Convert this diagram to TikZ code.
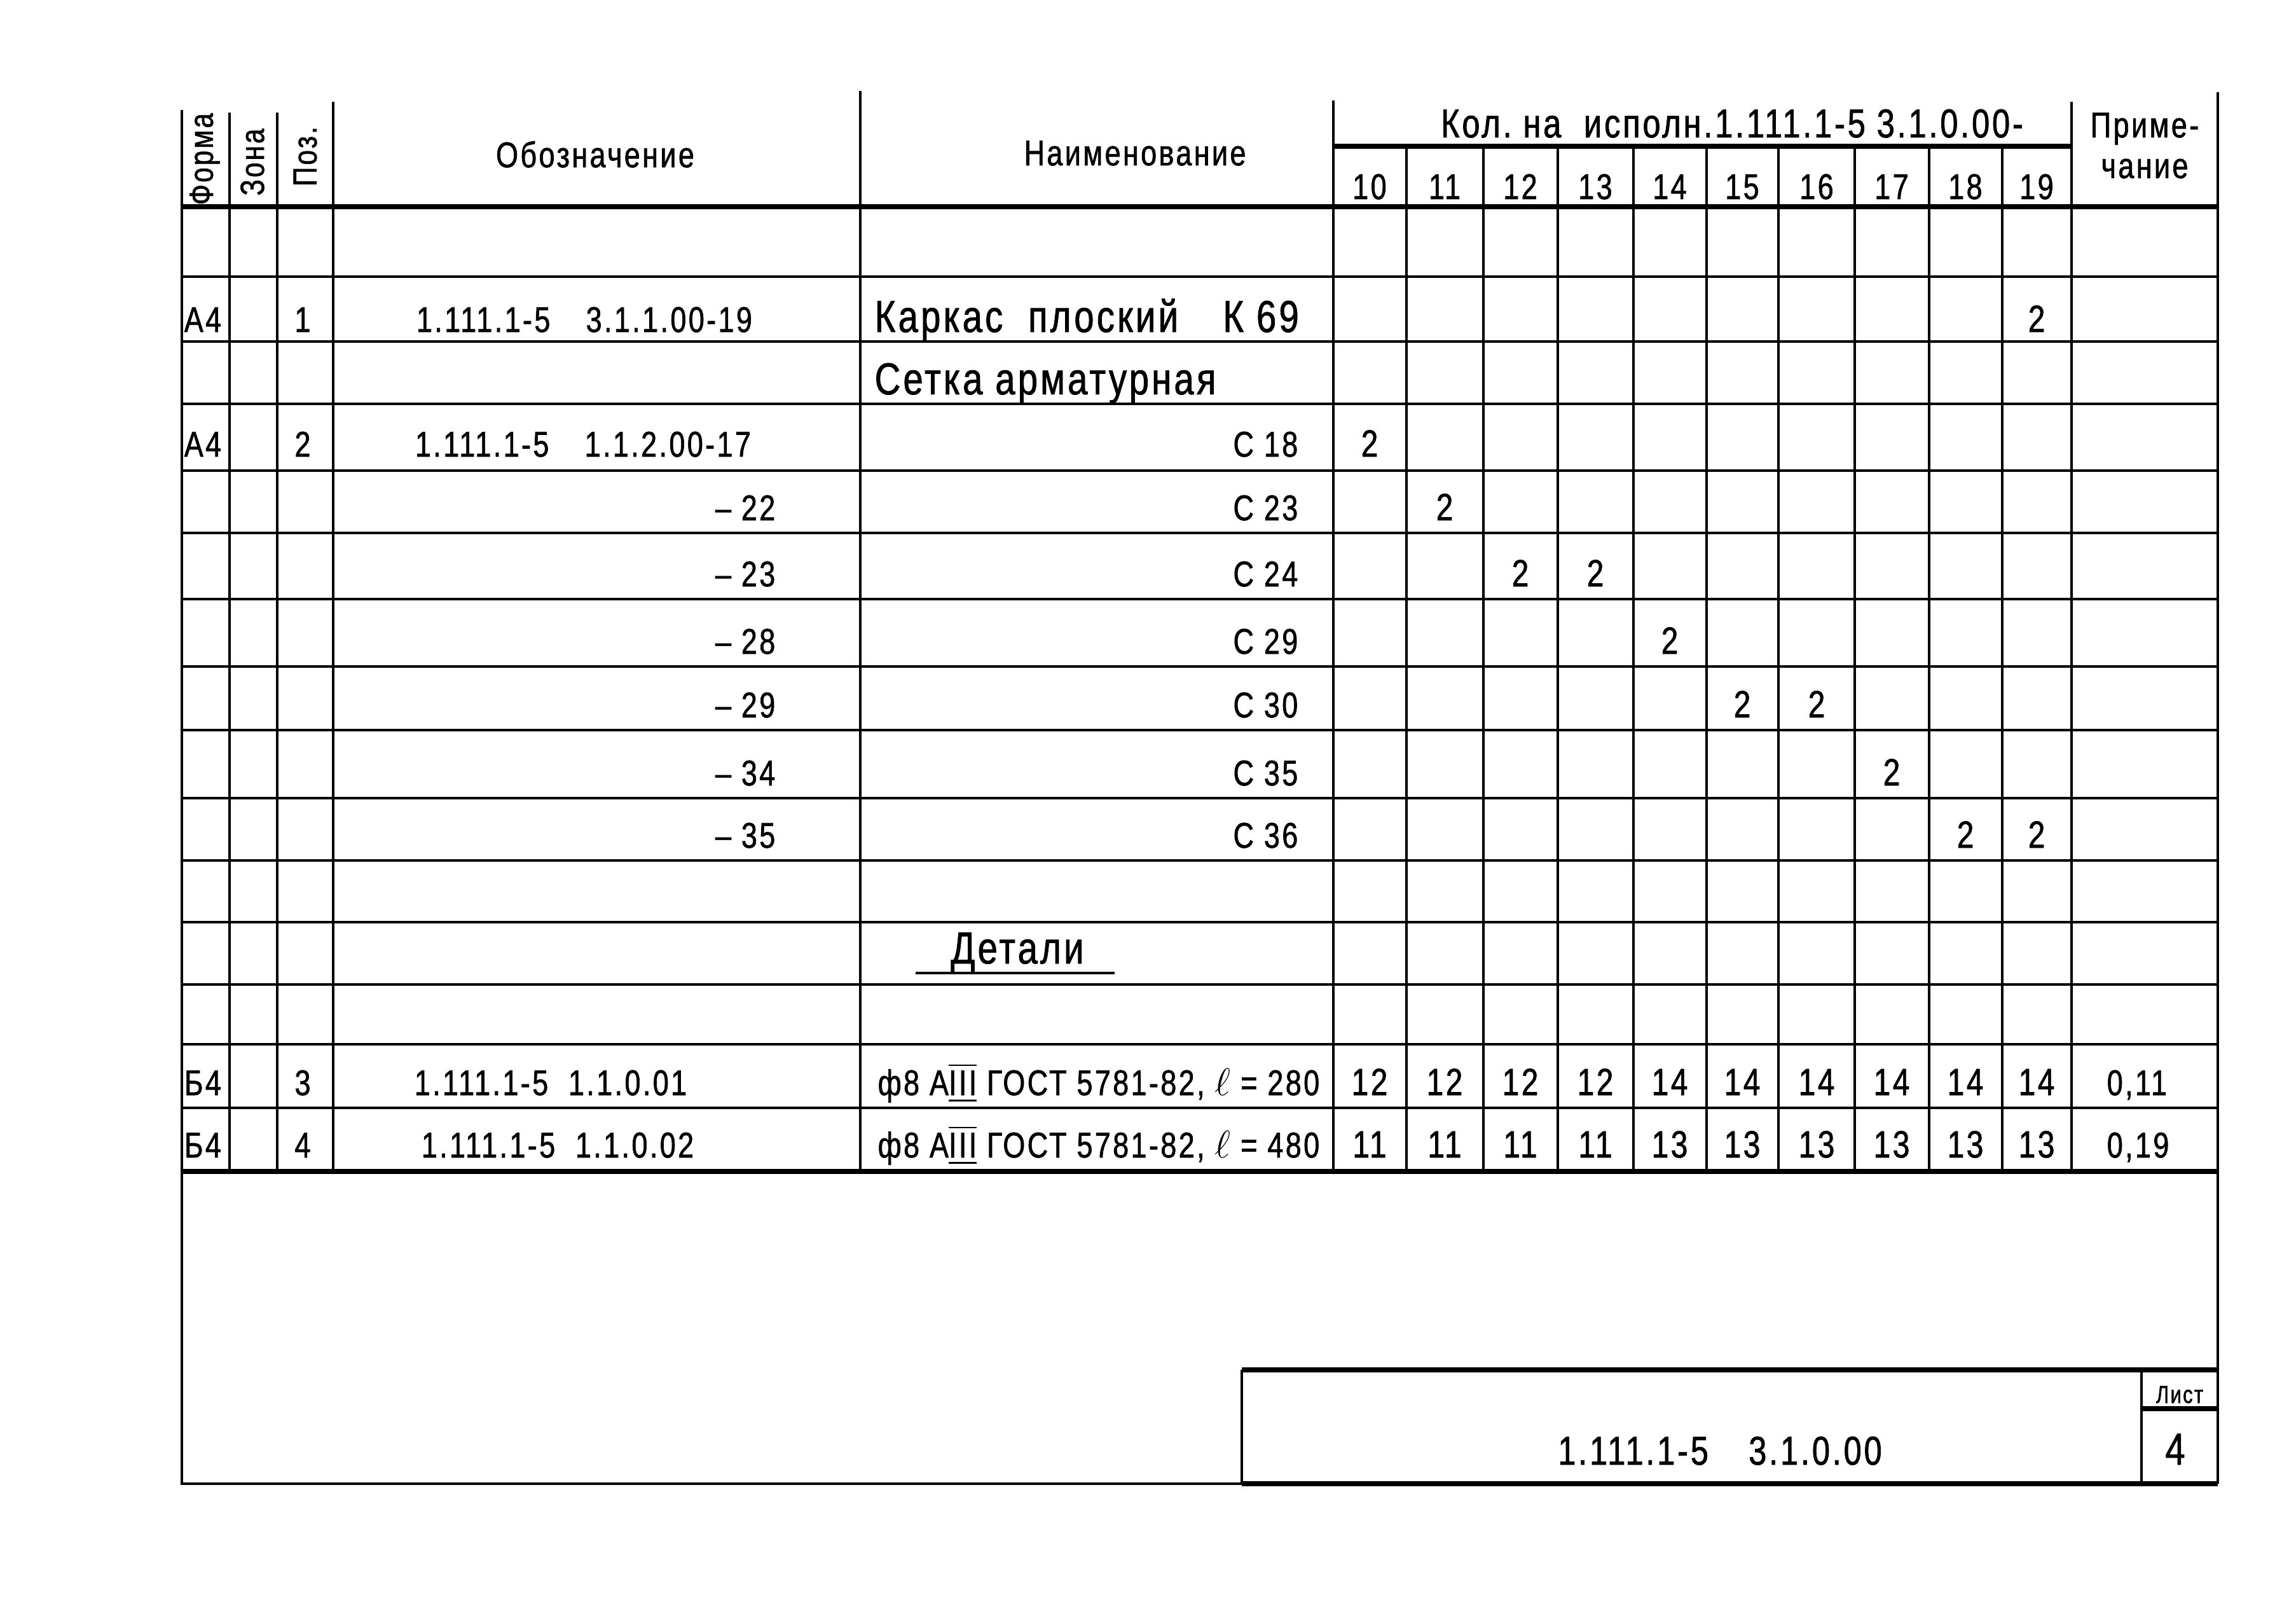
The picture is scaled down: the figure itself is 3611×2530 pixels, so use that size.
\documentclass[tikz,border=0pt]{standalone}
\usepackage{fontspec}
\setmainfont{Liberation Sans}[FakeStretch=0.8,LetterSpace=6,FakeBold=1.2]
\usepackage{amsmath}

\begin{document}
\begin{tikzpicture}[x=0.1mm,y=-0.1mm,
   rule/.style={line width=0.45mm},
   bold rule/.style={line width=0.85mm},
   txt/.style={inner sep=0pt,anchor=base,font=\fontsize{16}{18}\selectfont},
   big/.style={txt,font=\fontsize{20}{22}\selectfont},
   qty/.style={txt,font=\fontsize{17}{19}\selectfont},
   vert/.style={inner sep=0pt,rotate=90,font=\fontsize{15}{17}\selectfont}]
\useasboundingbox (0,0) rectangle (3611,2530);

% rules of the table
\foreach \y in {435,537,635,740,838,942,1048,1148,1255,1353,1450,1548,1642,1742}
  \draw[rule] (286,\y) -- (3488,\y);
\draw[bold rule] (286,325) -- (3488,325);
\draw[bold rule] (286,1842) -- (3488,1842);
\draw[bold rule] (2097,230) -- (3258,230);
\foreach \x/\t in {361/177,436/177,524/160,1353/143,2097/158,3258/160}
  \draw[rule] (\x,\t) -- (\x,1842);
\foreach \x in {2212,2333,2450,2569,2684,2797,2917,3034,3149}
  \draw[rule] (\x,230) -- (\x,1842);
% frame
\draw[rule] (286,173) -- (286,2333) -- (1953,2333);
\draw[rule] (3488,145) -- (3488,2333);
% title block
\draw[bold rule] (1953,2333) -- (3488,2333);
\draw[bold rule] (1953,2154) -- (3488,2154);
\draw[rule] (1953,2154) -- (1953,2333);
\draw[rule] (3368,2154) -- (3368,2333);
\draw[bold rule] (3368,2215) -- (3488,2215);

% header
\node[vert] (forma) at (322,250) {Форма};
\node[vert] (zona) at (397,255) {Зона};
\node[vert] (poz) at (480,246) {Поз.};
\node[txt] (oboz) at (936,263) {Обозначение};
\node[txt] (naim) at (1785,260) {Наименование};
\node[txt,font=\fontsize{18}{20}\selectfont] (kol) at (2724,216) {Кол.\ на\ \ исполн.1.111.1-5\ 3.1.0.00-};
\node[txt] (prim1) at (3373,216) {Приме-};
\node[txt] (prim2) at (3373,280) {чание};
\foreach \n/\x in {10/2154,11/2272,12/2391,13/2509,14/2626,15/2740,16/2857,17/2975,18/3091,19/3203}{
  \coordinate (c\n) at (\x,0);
  \node[txt] (h\n) at (\x,313) {\n};
}

% position 1 and 2
\node[txt] (f1) at (319,522) {А4};
\node[txt] (p1) at (476,522) {1};
\node[txt] (o1) at (919,522) {1.111.1-5\quad 3.1.1.00-19};
\node[big,anchor=base west] (n1) at (1375,522) {Каркас\ \ плоский\quad К 69};
\node[big,anchor=base west] (grid) at (1375,620) {Сетка арматурная};
\node[txt] (f2) at (319,718) {А4};
\node[txt] (p2) at (476,718) {2};
\node[txt] (o2) at (917,718) {1.111.1-5\quad 1.1.2.00-17};
\node[txt,anchor=base east] (s18) at (2042,718) {С 18};
\foreach \y/\d/\s in {818/22/23,922/23/24,1028/28/29,1128/29/30,1235/34/35,1333/35/36}{
  \node[txt,anchor=base east] (d\d) at (1220,\y) {– \d};
  \node[txt,anchor=base east] (s\s) at (2042,\y) {С \s};
}
\foreach \c/\y in {19/522,10/718,11/818,12/922,13/922,14/1028,15/1128,16/1128,17/1235,18/1333,19/1333}
  \node[qty] (q\c-\y) at (c\c |- 0,\y) {2};

% details
\node[big] (det) at (1600,1515) {Детали};
\draw[rule] (1440,1530) -- (1753,1530);
\node[txt] (f3) at (319,1722) {Б4};
\node[txt] (p3) at (476,1722) {3};
\node[txt] (o3) at (866,1722) {1.111.1-5\ \ 1.1.0.01};
\node[txt,anchor=base west] (n3) at (1380,1722) {ф8 А$\overline{\underline{\mbox{III}}}$ ГОСТ 5781-82, $\ell$ = 280};
\node[txt] (f4) at (319,1820) {Б4};
\node[txt] (p4) at (476,1820) {4};
\node[txt] (o4) at (877,1820) {1.111.1-5\ \ 1.1.0.02};
\node[txt,anchor=base west] (n4) at (1380,1820) {ф8 А$\overline{\underline{\mbox{III}}}$ ГОСТ 5781-82, $\ell$ = 480};
\foreach \c/\v in {10/12,11/12,12/12,13/12,14/14,15/14,16/14,17/14,18/14,19/14}
  \node[qty] (a\c) at (c\c |- 0,1722) {\v};
\foreach \c/\v in {10/11,11/11,12/11,13/11,14/13,15/13,16/13,17/13,18/13,19/13}
  \node[qty] (b\c) at (c\c |- 0,1820) {\v};
\node[txt,anchor=base west] (m3) at (3313,1722) {0,11};
\node[txt,anchor=base west] (m4) at (3313,1820) {0,19};

% title block
\node[txt,font=\fontsize{18}{20}\selectfont] (code) at (2705,2303) {1.111.1-5\quad 3.1.0.00};
\node[txt,font=\fontsize{11}{12}\selectfont] (list) at (3428,2206) {Лист};
\node[big] (sheet) at (3421,2303) {4};
\end{tikzpicture}
\end{document}
